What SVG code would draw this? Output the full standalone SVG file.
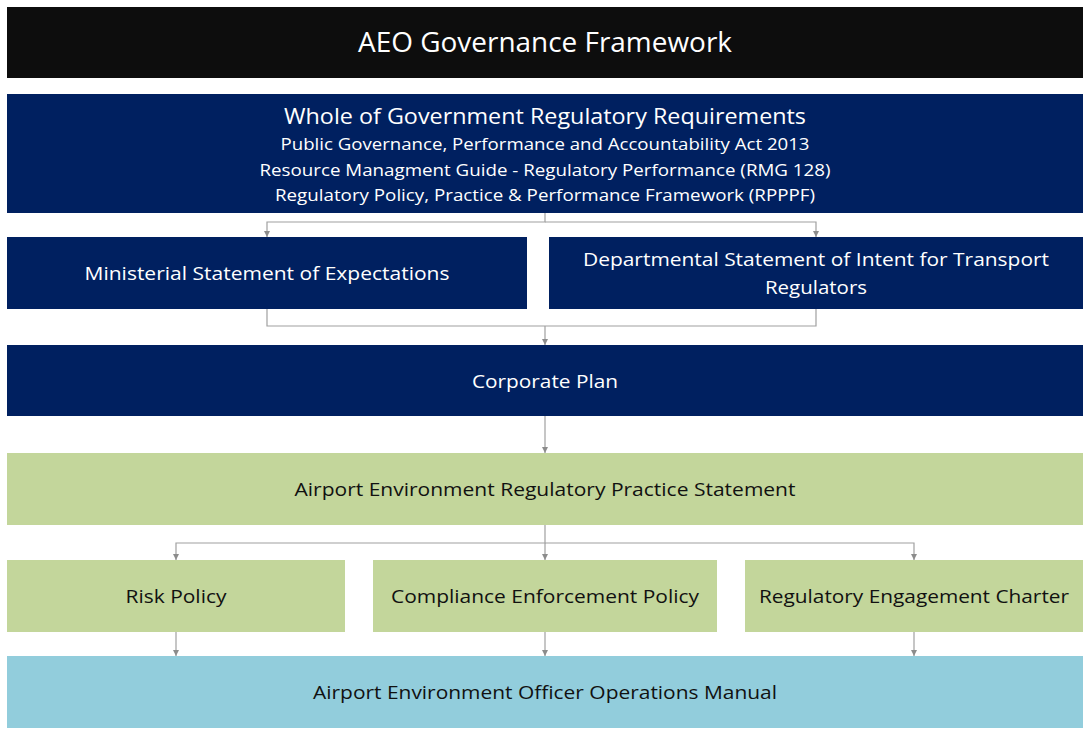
<svg xmlns="http://www.w3.org/2000/svg" width="1090" height="736" viewBox="0 0 1090 736">
<style>
text{font-family:"Open Sans","Liberation Sans",sans-serif;text-anchor:middle}
.w{fill:#ffffff}.k{fill:#111111}
.t{font-size:19px}
.c{fill:none;stroke:#a0a0a0;stroke-width:1.2}
</style>
<defs>
<marker id="ar" viewBox="0 0 10 10" refX="10" refY="5" markerWidth="6" markerHeight="6" orient="auto" markerUnits="userSpaceOnUse"><path d="M0,0L10,5L0,10z" fill="#8c8c8c"/></marker>
</defs>
<rect width="1090" height="736" fill="#ffffff"/>
<g id="connectors">
<path class="c" d="M545,213V222H267V237" marker-end="url(#ar)"/>
<path class="c" d="M545,222H816V237" marker-end="url(#ar)"/>
<path class="c" d="M267,309V326H816V309M545,326V345" marker-end="url(#ar)"/>
<path class="c" d="M545,416V453" marker-end="url(#ar)"/>
<path class="c" d="M545,525V543H176V560" marker-end="url(#ar)"/>
<path class="c" d="M545,543V560" marker-end="url(#ar)"/>
<path class="c" d="M545,543H914V560" marker-end="url(#ar)"/>
<path class="c" d="M176,632V656" marker-end="url(#ar)"/>
<path class="c" d="M545,632V656" marker-end="url(#ar)"/>
<path class="c" d="M914,632V656" marker-end="url(#ar)"/>
</g>
<g id="title">
<rect x="7" y="7" width="1076" height="71" fill="#0d0d0d"/>
<text class="w" x="545" y="52" font-size="28" textLength="374" lengthAdjust="spacingAndGlyphs">AEO Governance Framework</text>
</g>
<g id="whole-of-government">
<rect x="7" y="94" width="1076" height="119" fill="#002060"/>
<text class="w" x="545" y="124" font-size="22" textLength="522" lengthAdjust="spacingAndGlyphs">Whole of Government Regulatory Requirements</text>
<text class="w" x="545" y="150" font-size="17" textLength="529" lengthAdjust="spacingAndGlyphs">Public Governance, Performance and Accountability Act 2013</text>
<text class="w" x="545" y="176" font-size="17" textLength="571" lengthAdjust="spacingAndGlyphs">Resource Managment Guide - Regulatory Performance (RMG 128)</text>
<text class="w" x="545" y="201" font-size="17" textLength="540" lengthAdjust="spacingAndGlyphs">Regulatory Policy, Practice &amp; Performance Framework (RPPPF)</text>
</g>
<g id="ministerial">
<rect x="7" y="237" width="520" height="72" fill="#002060"/>
<text class="w t" x="267" y="280" textLength="365" lengthAdjust="spacingAndGlyphs">Ministerial Statement of Expectations</text>
</g>
<g id="departmental">
<rect x="549" y="237" width="534" height="72" fill="#002060"/>
<text class="w t" x="816" y="266" textLength="466" lengthAdjust="spacingAndGlyphs">Departmental Statement of Intent for Transport</text>
<text class="w t" x="816" y="294" textLength="102" lengthAdjust="spacingAndGlyphs">Regulators</text>
</g>
<g id="corporate-plan">
<rect x="7" y="345" width="1076" height="71" fill="#002060"/>
<text class="w t" x="545" y="388" textLength="146" lengthAdjust="spacingAndGlyphs">Corporate Plan</text>
</g>
<g id="practice-statement">
<rect x="7" y="453" width="1076" height="72" fill="#c3d69b"/>
<text class="k t" x="545" y="496" textLength="501" lengthAdjust="spacingAndGlyphs">Airport Environment Regulatory Practice Statement</text>
</g>
<g id="risk-policy">
<rect x="7" y="560" width="338" height="72" fill="#c3d69b"/>
<text class="k t" x="176" y="603" textLength="101" lengthAdjust="spacingAndGlyphs">Risk Policy</text>
</g>
<g id="compliance-policy">
<rect x="373" y="560" width="344" height="72" fill="#c3d69b"/>
<text class="k t" x="545" y="603" textLength="308" lengthAdjust="spacingAndGlyphs">Compliance Enforcement Policy</text>
</g>
<g id="engagement-charter">
<rect x="745" y="560" width="338" height="72" fill="#c3d69b"/>
<text class="k t" x="914" y="603" textLength="310" lengthAdjust="spacingAndGlyphs">Regulatory Engagement Charter</text>
</g>
<g id="operations-manual">
<rect x="7" y="656" width="1076" height="72" fill="#92cddc"/>
<text class="k t" x="545" y="699" textLength="464" lengthAdjust="spacingAndGlyphs">Airport Environment Officer Operations Manual</text>
</g>
</svg>
